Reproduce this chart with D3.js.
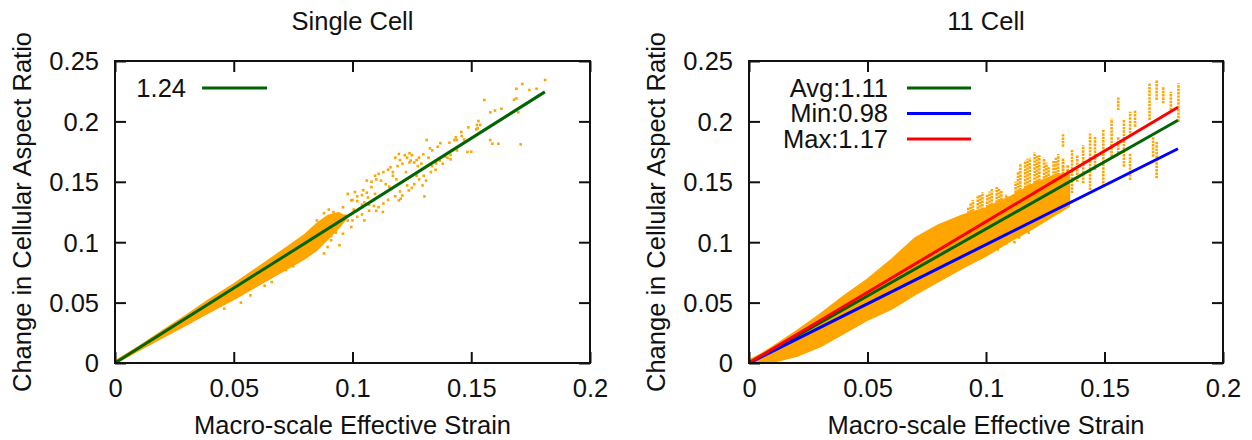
<!DOCTYPE html>
<html><head><meta charset="utf-8">
<script src="https://cdn.jsdelivr.net/npm/d3@7"></script>
<style>
body{margin:0;background:#fff}
text{font-family:"Liberation Sans",Arial,Helvetica,sans-serif;fill:#111}
</style>
</head><body>
<svg id="c" width="1252" height="440"></svg>
<script>
// ---------- data ----------
const xTicks = [0, 0.05, 0.1, 0.15, 0.2];
const xTickLabels = ["0", "0.05", "0.1", "0.15", "0.2"];
const yTicks = [0, 0.05, 0.1, 0.15, 0.2, 0.25];
const yTickLabels = ["0", "0.05", "0.1", "0.15", "0.2", "0.25"];
const panelTitles = ["Single Cell", "11 Cell"];
const xAxisTitle = "Macro-scale Effective Strain";
const yAxisTitle = "Change in Cellular Aspect Ratio";

// fit lines: y = slope * x, x in [0, fitXMax]
const fitXMax = 0.181;
const singleFitNames = ["1.24"];
const singleFitSlopes = [1.24];
const multiFitNames = ["Avg:1.11", "Min:0.98", "Max:1.17"];
const multiFitSlopes = [1.11, 0.98, 1.17];

// Single cell: dense band of points (x, lower y, upper y)
const singleBandX  = [0, 0.01, 0.02, 0.03, 0.04, 0.05, 0.06, 0.07, 0.08, 0.085, 0.09, 0.094, 0.097];
const singleBandLo = [0, 0.0108, 0.0215, 0.032, 0.0428, 0.053, 0.0645, 0.0755, 0.087, 0.094, 0.104, 0.112, 0.119];
const singleBandHi = [0.001, 0.0132, 0.0262, 0.039, 0.0525, 0.065, 0.0785, 0.092, 0.106, 0.115, 0.122, 0.124, 0.121];
// Single cell: scattered points
const singlePtsX = [0.1811,0.1715,0.169,0.1775,0.1745,0.168,0.169,0.1555,0.1698,0.158,0.160,0.1627,0.1708,0.158,0.1589,0.1614,0.153,0.1524,0.1538,0.1527,0.1521,0.1488,0.1458,0.1435,0.146,0.1429,0.1439,0.1408,0.1359,0.1326,0.1336,0.1312,0.15,0.1484,0.1413,0.1413,0.1368,0.1352,0.1298,0.124,0.1303,
  0.111,0.112,0.116,0.108,0.1095,0.1087,0.111,0.1128,0.1195,0.1203,0.121,0.1237,0.1295,0.131,0.126,0.1045,0.106,0.1095,0.118,0.1195,0.121,0.123,0.1245,0.126,0.128,0.098,0.0995,0.101,0.096,0.0945,0.098,0.0995,0.096,0.093,0.091,0.0945,0.088,0.0895,
  0.103,0.105,0.102,0.107,0.114,0.117,0.1185,0.1225,0.127,0.1335,0.139,0.144,0.147,0.137,0.1275,0.1155,0.1065,0.1,0.092,0.086,0.084,0.078,0.075,0.072,0.066,0.063,0.057,0.053,0.046,0.085,0.088,0.09,0.092,0.097,0.1005,0.104,
  0.1,0.102,0.104,0.106,0.108,0.11,0.113,0.115,0.117,0.119,0.12,0.122,0.124,0.125,0.127,0.129,0.132,
  0.1,0.102,0.104,0.105,0.107,0.109,0.11,0.113,0.115,0.118,0.12,0.123,0.125,0.128,0.13,0.133,0.135,0.138,0.14,
  0.081,0.083,0.087,0.089,0.091,0.093,0.082,0.079,0.076,0.074];
const singlePtsY = [0.2343,0.231,0.227,0.227,0.226,0.218,0.219,0.2177,0.2075,0.2075,0.209,0.2105,0.181,0.1846,0.1815,0.1815,0.2003,0.197,0.197,0.1943,0.1934,0.195,0.1912,0.1868,0.1879,0.1846,0.1846,0.1824,0.179,0.1777,0.176,0.1846,0.1749,0.1747,0.1722,0.1686,0.1675,0.1653,0.1728,0.1736,0.1379,
  0.1566,0.151,0.162,0.1456,0.14,0.1346,0.129,0.125,0.1346,0.136,0.1387,0.1429,0.147,0.151,0.148,0.143,0.151,0.155,0.17,0.173,0.165,0.170,0.1676,0.166,0.170,0.140,0.1346,0.1415,0.129,0.121,0.118,0.1126,0.107,0.11,0.1016,0.0975,0.0907,0.096,
  0.128,0.133,0.138,0.131,0.148,0.155,0.152,0.158,0.155,0.163,0.171,0.176,0.185,0.182,0.163,0.146,0.137,0.124,0.116,0.1,0.093,0.088,0.08,0.077,0.067,0.064,0.056,0.05,0.045,0.118,0.124,0.127,0.125,0.122,0.127,0.131,
  0.135,0.134,0.139,0.141,0.15,0.152,0.158,0.16,0.158,0.163,0.168,0.172,0.166,0.172,0.168,0.165,0.17,
  0.118,0.121,0.123,0.118,0.126,0.13,0.126,0.132,0.135,0.138,0.142,0.147,0.145,0.152,0.155,0.158,0.16,0.165,0.17,
  0.092,0.095,0.099,0.103,0.105,0.108,0.105,0.097,0.092,0.088];

// 11 cell: dense band (x, lower y, upper y)
const multiBandX  = [0, 0.005, 0.01, 0.02, 0.03, 0.04, 0.05, 0.06, 0.07, 0.08, 0.09, 0.1, 0.11, 0.12, 0.13, 0.135];
const multiBandLo = [0, 0, 0.001, 0.006, 0.014, 0.025, 0.036, 0.045, 0.057, 0.068, 0.079, 0.089, 0.101, 0.112, 0.124, 0.13];
const multiBandHi = [0.002, 0.007, 0.013, 0.026, 0.040, 0.055, 0.069, 0.085, 0.103, 0.114, 0.122, 0.128, 0.137, 0.148, 0.156, 0.156];
// 11 cell: vertical columns of points (x, lowest y, highest y)
const multiColX  = [0.1812,0.178,0.1748,0.172,0.172,0.169,0.1705,0.1629,0.1608,0.1608,0.1582,0.1558,0.1558,0.153,0.1495,0.146,0.1439,0.141,0.1385,0.1363,0.1345,0.1325,0.1325,
  0.0925,0.0945,0.0965,0.0985,0.1005,0.1025,0.1045,0.1065,0.1085,0.1105,0.1125,0.1145,0.1165,0.1185,0.1205,0.1225,0.1245,0.1265,0.1285,0.1305,0.1325,0.1345,
  0.0935,0.0975,0.1015,0.1055,0.1095,0.1135,0.1175,0.1215,0.1255,0.1295];
const multiColLo = [0.1998,0.2094,0.215,0.2177,0.1529,0.2012,0.1708,0.1956,0.1873,0.1515,0.1625,0.2094,0.1736,0.1708,0.146,0.1598,0.1432,0.1488,0.150,0.1407,0.138,0.179,0.145,
  0.118,0.12,0.122,0.124,0.126,0.128,0.13,0.132,0.134,0.136,0.138,0.14,0.142,0.144,0.146,0.148,0.15,0.152,0.154,0.155,0.156,0.156,
  0.119,0.123,0.127,0.131,0.135,0.139,0.143,0.147,0.151,0.154];
const multiColHi = [0.2315,0.2246,0.2287,0.2343,0.1832,0.2315,0.1873,0.2094,0.208,0.1736,0.2012,0.2205,0.1873,0.2025,0.1929,0.1873,0.190,0.1805,0.172,0.1763,0.160,0.19,0.168,
  0.129,0.135,0.139,0.1415,0.14,0.144,0.1456,0.143,0.14,0.1346,0.15,0.165,0.1676,0.170,0.1745,0.172,0.170,0.162,0.1676,0.173,0.170,0.164,
  0.132,0.14,0.142,0.145,0.138,0.158,0.169,0.172,0.166,0.17];
// 11 cell: a few isolated points
const multiPtsX = [0.126,0.131,0.118,0.114,0.1085,0.1035,0.1165,0.1225,0.098,0.105,0.112];
const multiPtsY = [0.122,0.125,0.108,0.104,0.099,0.094,0.121,0.125,0.087,0.094,0.1];

// ---------- drawing ----------
const svg = d3.select("#c");
const TOP = 61, BOTTOM = 363;
const panels = [
  {left:115, right:590, title:panelTitles[0], names:singleFitNames, slopes:singleFitSlopes,
   colors:["#006400"], bandX:singleBandX, bandLo:singleBandLo, bandHi:singleBandHi,
   colX:[], colLo:[], colHi:[], ptsX:singlePtsX, ptsY:singlePtsY,
   legTextRight:186, legLine:[202,267]},
  {left:749, right:1223, title:panelTitles[1], names:multiFitNames, slopes:multiFitSlopes,
   colors:["#006400","#0000ff","#ff0000"], bandX:multiBandX, bandLo:multiBandLo, bandHi:multiBandHi,
   colX:multiColX, colLo:multiColLo, colHi:multiColHi, ptsX:multiPtsX, ptsY:multiPtsY,
   legTextRight:888, legLine:[907,971]}
];
const ORANGE = "#ffa500";
const FS = 25.5;

panels.forEach((p, pi) => {
  const x = d3.scaleLinear().domain([0, 0.2]).range([p.left, p.right]);
  const y = d3.scaleLinear().domain([0, 0.25]).range([BOTTOM, TOP]);
  const g = svg.append("g");
  const clipId = "clip" + pi;
  svg.append("clipPath").attr("id", clipId).append("rect")
    .attr("x", p.left).attr("y", TOP).attr("width", p.right - p.left).attr("height", BOTTOM - TOP);
  const data = g.append("g").attr("clip-path", `url(#${clipId})`);

  // dense band of points
  const band = p.bandX.map((v, i) => ({x: v, lo: p.bandLo[i], hi: p.bandHi[i]}));
  data.append("path").datum(band)
    .attr("d", d3.area().x(d => x(d.x)).y0(d => y(d.lo)).y1(d => y(d.hi)))
    .attr("fill", ORANGE).attr("stroke", ORANGE).attr("stroke-width", 2.5)
    .attr("stroke-linejoin", "round");

  // columns of points
  const cols = p.colX.map((v, i) => ({x: v, lo: p.colLo[i], hi: p.colHi[i]}));
  data.selectAll("line.col").data(cols).join("line").attr("class", "col")
    .attr("x1", d => x(d.x)).attr("x2", d => x(d.x))
    .attr("y1", d => y(d.lo)).attr("y2", d => y(d.hi))
    .attr("stroke", ORANGE).attr("stroke-width", 2.6).attr("stroke-dasharray", "2.4,1.0");

  // isolated points
  const pts = p.ptsX.map((v, i) => ({x: v, y: p.ptsY[i]}));
  data.selectAll("rect.pt").data(pts).join("rect").attr("class", "pt")
    .attr("x", d => x(d.x) - 1.3).attr("y", d => y(d.y) - 1.3)
    .attr("width", 2.6).attr("height", 2.6).attr("fill", ORANGE);

  // fit lines (drawn in legend order)
  p.slopes.forEach((s, i) => {
    data.append("path").datum([0, fitXMax])
      .attr("d", d3.line().x(d => x(d)).y(d => y(s * d)))
      .attr("stroke", p.colors[i]).attr("stroke-width", 3).attr("fill", "none");
  });

  // axes (gnuplot style: inward ticks, mirrored)
  const tick = 11;
  const ax = g.append("g").attr("transform", `translate(0,${BOTTOM})`)
    .call(d3.axisBottom(x).tickValues(xTicks).tickFormat((d, i) => xTickLabels[i])
      .tickSizeInner(-tick).tickSizeOuter(0).tickPadding(20));
  const axT = g.append("g").attr("transform", `translate(0,${TOP})`)
    .call(d3.axisTop(x).tickValues(xTicks).tickFormat("").tickSizeInner(-tick).tickSizeOuter(0));
  const ay = g.append("g").attr("transform", `translate(${p.left},0)`)
    .call(d3.axisLeft(y).tickValues(yTicks).tickFormat((d, i) => yTickLabels[i])
      .tickSizeInner(-tick).tickSizeOuter(0).tickPadding(16));
  const ayR = g.append("g").attr("transform", `translate(${p.right},0)`)
    .call(d3.axisRight(y).tickValues(yTicks).tickFormat("").tickSizeInner(-tick).tickSizeOuter(0));
  [ax, axT, ay, ayR].forEach(a => {
    a.select(".domain").remove();
    a.selectAll(".tick line").attr("stroke", "#111").attr("stroke-width", 2);
    a.selectAll(".tick text").attr("font-size", FS).attr("font-family", null).style("fill", "#111");
  });
  ax.selectAll(".tick text").attr("dy", null).attr("y", 34);
  ay.selectAll(".tick text").attr("dy", "0.35em");

  // frame
  g.append("rect").attr("x", p.left).attr("y", TOP)
    .attr("width", p.right - p.left).attr("height", BOTTOM - TOP)
    .attr("fill", "none").attr("stroke", "#111").attr("stroke-width", 2);

  // titles
  const cx = (p.left + p.right) / 2;
  g.append("text").attr("x", cx).attr("y", 30).attr("text-anchor", "middle")
    .attr("font-size", FS).text(p.title);
  g.append("text").attr("x", cx).attr("y", 434).attr("text-anchor", "middle")
    .attr("font-size", FS).text(xAxisTitle);
  g.append("text").attr("transform", `translate(${p.left - 84},${(TOP + BOTTOM) / 2}) rotate(-90)`)
    .attr("text-anchor", "middle").attr("font-size", FS).text(yAxisTitle);

  // legend
  p.names.forEach((n, i) => {
    const ly = 88 + i * 25.5;
    g.append("text").attr("x", p.legTextRight).attr("y", ly).attr("dy", "0.35em")
      .attr("text-anchor", "end").attr("font-size", FS).text(n);
    g.append("line").attr("x1", p.legLine[0]).attr("x2", p.legLine[1])
      .attr("y1", ly).attr("y2", ly).attr("stroke", p.colors[i]).attr("stroke-width", 3);
  });
});
</script>
</body></html>
